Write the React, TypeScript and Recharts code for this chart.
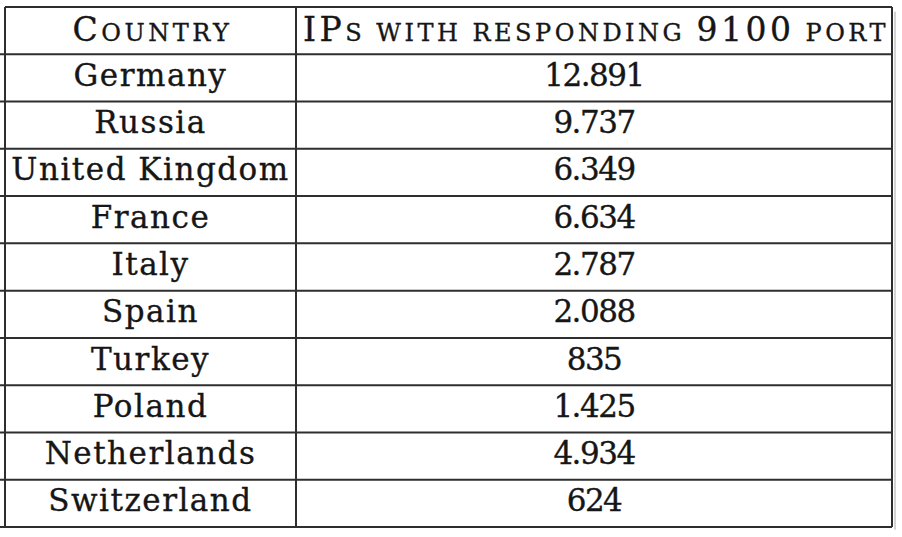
import { ScatterChart, Scatter, XAxis, YAxis, ReferenceLine } from 'recharts'

const HEADERS = ['Country', 'IPs with responding 9100 port']

const COUNTRIES = [
  'Germany',
  'Russia',
  'United Kingdom',
  'France',
  'Italy',
  'Spain',
  'Turkey',
  'Poland',
  'Netherlands',
  'Switzerland',
]

const IP_COUNTS = [12891, 9737, 6349, 6634, 2787, 2088, 835, 1425, 4934, 624]

// table layout (x in px from the left border, y in rows)
const COL_EDGES = [0, 291, 887]
const ROW_COUNT = COUNTRIES.length + 1
const LINE = '#2e2e2e'
const INK = '#161616'
const FONT = '"DejaVu Serif", serif'

const formatCount = (n: number) => String(n).replace(/\B(?=(\d{3})+(?!\d))/g, '.')

const colCenter = (c: number) => (COL_EDGES[c] + COL_EDGES[c + 1]) / 2

const headerData = HEADERS.map((h, c) => ({ x: colCenter(c), y: 0.5, label: h }))
const countryData = COUNTRIES.map((name, i) => ({ x: colCenter(0), y: i + 1.5, label: name }))
const countData = IP_COUNTS.map((v, i) => ({ x: colCenter(1), y: i + 1.5, label: formatCount(v) }))

// split into runs of big / small-caps letters
function smallCapsRuns(text: string) {
  const runs: { small: boolean; text: string }[] = []
  for (const ch of text) {
    const small = ch === ' ' || (ch === ch.toLowerCase() && ch !== ch.toUpperCase())
    const last = runs[runs.length - 1]
    if (last && last.small === small) last.text += ch
    else runs.push({ small, text: ch })
  }
  return runs
}

const HeaderCell = (props: any) => {
  const { cx, cy, payload } = props
  return (
    <text x={cx + 2} y={cy + 10} textAnchor="middle" fill={INK} stroke={INK} strokeWidth={0.35}
      fontFamily={FONT} letterSpacing={3.5}>
      {smallCapsRuns(payload.label).map((r, i) => (
        <tspan key={i} fontSize={r.small ? 24 : 33}>{r.small ? r.text.toUpperCase() : r.text}</tspan>
      ))}
    </text>
  )
}

const NameCell = (props: any) => (
  <text x={props.cx} y={props.cy + 8} textAnchor="middle" fill={INK} stroke={INK} strokeWidth={0.35}
    fontFamily={FONT} fontSize={31} letterSpacing={1.5}>
    {props.payload.label}
  </text>
)

const NumberCell = (props: any) => (
  <text x={props.cx} y={props.cy + 8} textAnchor="middle" fill={INK} stroke={INK} strokeWidth={0.35}
    fontFamily={FONT} fontSize={31} letterSpacing={-1.5}>
    {props.payload.label}
  </text>
)

const rowLines = Array.from({ length: ROW_COUNT + 1 }, (_, i) => i)

export default function App() {
  return (
    <div style={{ position: 'absolute', left: 0, top: 0, background: '#fff' }}>
      <ScatterChart width={902} height={537} margin={{ top: 7, right: 10, bottom: 10, left: 5 }}>
        <XAxis type="number" dataKey="x" domain={[0, 887]} hide />
        <YAxis type="number" dataKey="y" domain={[0, ROW_COUNT]} reversed hide />

        {/* faint shadow along the right and bottom edges */}
        <ReferenceLine ifOverflow="visible" stroke="#d4d4d4" strokeWidth={2}
          segment={[{ x: 890, y: 0.1 }, { x: 890, y: ROW_COUNT + 0.06 }]} />

        {rowLines.map((r) => (
          <ReferenceLine key={`h${r}`} ifOverflow="visible" stroke={LINE} strokeWidth={2}
            segment={[{ x: r === 0 ? 0 : -5, y: r }, { x: 887, y: r }]} />
        ))}
        {COL_EDGES.map((x) => (
          <ReferenceLine key={`v${x}`} ifOverflow="visible" stroke={LINE} strokeWidth={2}
            segment={[{ x, y: 0 }, { x, y: ROW_COUNT }]} />
        ))}

        <Scatter data={headerData} shape={HeaderCell} isAnimationActive={false} />
        <Scatter data={countryData} shape={NameCell} isAnimationActive={false} />
        <Scatter data={countData} shape={NumberCell} isAnimationActive={false} />
      </ScatterChart>
    </div>
  )
}
